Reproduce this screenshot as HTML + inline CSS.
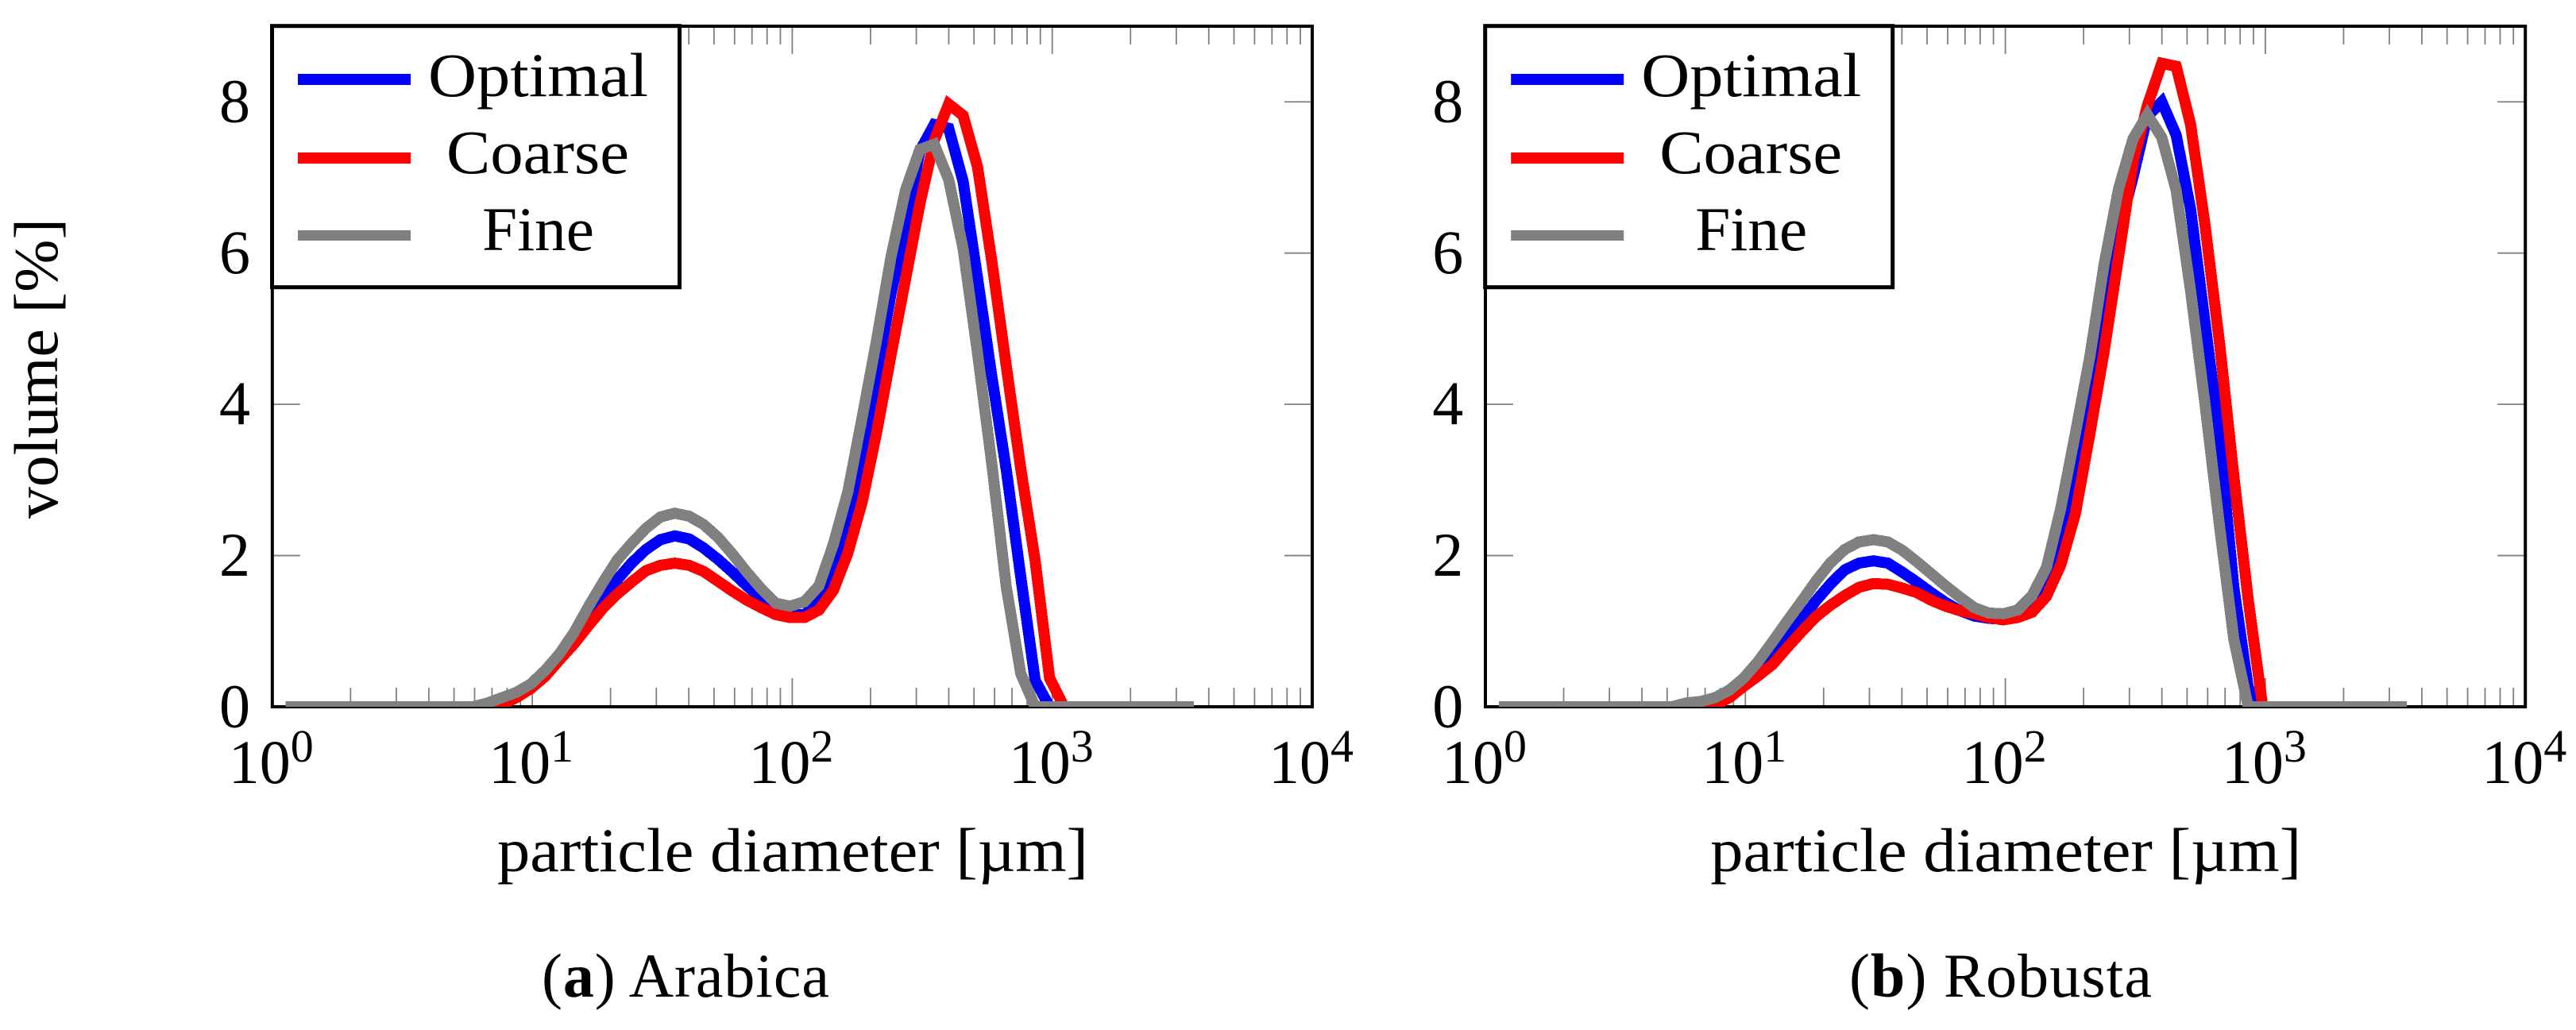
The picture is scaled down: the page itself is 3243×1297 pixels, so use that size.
<!DOCTYPE html>
<html lang="en">
<head>
<meta charset="utf-8">
<title>Particle size distribution: Arabica and Robusta</title>
<style>
  html, body { margin: 0; padding: 0; background: #ffffff; }
  svg { display: block; }
  text { font-family: "Liberation Serif", serif; font-size: 78px; fill: #000000; }
</style>
</head>
<body>
<svg id="figure" xmlns="http://www.w3.org/2000/svg" width="3243" height="1297" viewBox="0 0 3243 1297">
  <defs>
    <clipPath id="plot-clip"><rect x="342.8" y="33" width="1309.2" height="857"></rect></clipPath>
  </defs>
  <rect x="0" y="0" width="3243" height="1297" fill="#ffffff"></rect>

  <g id="panel-a">
    <g id="panel-a-axes"></g>
    <g id="panel-a-curves" clip-path="url(#plot-clip)"></g>
    <g>
      <rect x="342.5" y="32.7" width="513" height="329" fill="#ffffff" stroke="#000000" stroke-width="5"></rect>
      <rect x="375" y="93" width="142" height="14" fill="#0000ff"></rect>
      <rect x="375" y="192" width="142" height="14" fill="#ff0000"></rect>
      <rect x="375" y="290" width="142" height="13" fill="#808080"></rect>
      <text x="539" y="121" textLength="277" lengthAdjust="spacingAndGlyphs">Optimal</text>
      <text x="562" y="218" textLength="230" lengthAdjust="spacingAndGlyphs">Coarse</text>
      <text x="607" y="315" textLength="141" lengthAdjust="spacingAndGlyphs">Fine</text>
    </g>
    <text x="626" y="1097" textLength="744" lengthAdjust="spacingAndGlyphs">particle diameter [µm]</text>
  </g>

  <g id="panel-b" transform="translate(1527.2 0)">
    <g id="panel-b-axes"></g>
    <g id="panel-b-curves" clip-path="url(#plot-clip)"></g>
    <g>
      <rect x="342.5" y="32.7" width="513" height="329" fill="#ffffff" stroke="#000000" stroke-width="5"></rect>
      <rect x="375" y="93" width="142" height="14" fill="#0000ff"></rect>
      <rect x="375" y="192" width="142" height="14" fill="#ff0000"></rect>
      <rect x="375" y="290" width="142" height="13" fill="#808080"></rect>
      <text x="539" y="121" textLength="277" lengthAdjust="spacingAndGlyphs">Optimal</text>
      <text x="562" y="218" textLength="230" lengthAdjust="spacingAndGlyphs">Coarse</text>
      <text x="607" y="315" textLength="141" lengthAdjust="spacingAndGlyphs">Fine</text>
    </g>
    <text x="626" y="1097" textLength="744" lengthAdjust="spacingAndGlyphs">particle diameter [µm]</text>
  </g>

  <text transform="translate(72 653) rotate(-90)" x="0" y="0" textLength="378" lengthAdjust="spacingAndGlyphs">volume [%]</text>
  <text x="682" y="1255" textLength="362">(<tspan font-weight="bold">a</tspan>) Arabica</text>
  <text x="2328" y="1255" textLength="381">(<tspan font-weight="bold">b</tspan>) Robusta</text>
</svg>

<script>
// Shared chart data
const diameters = [1.126,1.278,1.453,1.650,1.875,2.131,2.421,2.750,3.125,3.550,4.034,4.583,5.207,5.916,6.722,7.637,8.677,9.857,11.20,12.72,14.46,16.42,18.66,21.20,24.09,27.37,31.10,35.33,40.14,45.61,51.82,58.87,66.89,76.00,86.35,98.10,111.5,126.7,143.9,163.5,185.8,211.1,239.8,272.5,309.6,351.7,399.6,454.0,515.9,586.1,665.9,756.6,859.6,976.7,1110,1261,1432,1627,1849,2100,2386,2711,3081,3500];

const arabicaOptimal = [0,0,0,0,0,0,0,0,0,0,0,0,0, 0,.02,.07,.15,.26,.42,.63,.86,1.13,1.41,1.68,1.90,2.08,2.21,2.26,2.22,2.10,1.95,1.78,1.60,1.44,1.30,1.22,1.22,1.38,1.75,2.45,3.40,4.42,5.46,6.37,7.35,7.70,7.65,6.95,5.67,4.36,3.13,1.72,.35,0, 0,0,0,0,0,0,0,0,0,0];
const arabicaCoarse = [0,0,0,0,0,0,0,0,0,0,0,0,0, 0,0,.03,.12,.24,.40,.62,.83,1.07,1.30,1.49,1.65,1.80,1.87,1.90,1.87,1.79,1.66,1.53,1.41,1.31,1.22,1.18,1.18,1.28,1.54,2.03,2.71,3.63,4.65,5.65,6.65,7.49,7.97,7.82,7.14,5.88,4.5,3.15,1.93,.38,0, 0,0,0,0,0,0,0,0,0];
const arabicaFine = [0,0,0,0,0,0,0,0,0,0,0,0,0, 0,.05,.12,.19,.30,.48,.70,.98,1.32,1.64,1.94,2.16,2.36,2.51,2.56,2.52,2.41,2.24,2.02,1.78,1.56,1.37,1.33,1.39,1.60,2.15,2.84,3.83,4.85,5.95,6.83,7.37,7.44,6.97,6.06,4.68,3.2,1.58,.44,0, 0,0,0,0,0,0,0,0,0,0,0];

const robustaOptimal = [0,0,0,0,0,0,0,0,0,0,0,0,0, 0,.02,.05,.13,.27,.44,.68,.90,1.14,1.40,1.62,1.81,1.90,1.93,1.90,1.78,1.65,1.51,1.38,1.27,1.20,1.17,1.16,1.21,1.35,1.62,2.13,3.12,4.10,5.15,6.27,7.0,7.81,8.0,7.56,6.58,5.08,3.57,1.58,.25,0, 0,0,0,0,0,0,0,0,0,0];
const robustaCoarse = [0,0,0,0,0,0,0,0,0,0,0,0,0, 0,0,.02,.12,.27,.41,.56,.78,.99,1.19,1.34,1.47,1.58,1.63,1.62,1.57,1.51,1.41,1.33,1.27,1.23,1.18,1.15,1.18,1.25,1.46,1.88,2.55,3.60,4.70,5.95,7.2,7.95,8.51,8.47,7.7,6.37,4.82,3.05,1.41,0, 0,0,0,0,0,0,0,0,0,0];
const robustaFine = [0,0,0,0,0,0,0,0,0,0,0,0,0, .05,.07,.12,.22,.38,.60,.86,1.13,1.39,1.66,1.90,2.08,2.18,2.21,2.18,2.07,1.92,1.76,1.60,1.45,1.31,1.24,1.23,1.28,1.47,1.84,2.63,3.61,4.62,5.85,6.85,7.51,7.83,7.53,6.83,5.5,4.0,2.40,.89,0, 0,0,0,0,0,0,0,0,0,0,0];

const yTickValues = [0, 2, 4, 6, 8];
const xTickExponents = [0, 1, 2, 3, 4];
const minorMultipliers = [2, 3, 4, 5, 6, 7, 8, 9];

const SVG_NS = 'http://www.w3.org/2000/svg';
const plotLeft = 342.8, plotRight = 1652, plotTop = 33, plotBottom = 890;
const decadeWidth = (plotRight - plotLeft) / 4;
const yMax = 9;

function xScale(d) {
  return plotLeft + Math.log10(d) * decadeWidth;
}
function yScale(v) {
  return plotBottom - (v / yMax) * (plotBottom - plotTop);
}
function tickLine(parent, x1, y1, x2, y2) {
  const el = document.createElementNS(SVG_NS, 'line');
  
  
  el.setAttribute('x1', x1);
  el.setAttribute('y1', y1);
  el.setAttribute('x2', x2);
  el.setAttribute('y2', y2);
  el.setAttribute('stroke', '#808080');
  el.setAttribute('stroke-width', '1.8');
  parent.appendChild(el);
}
function drawAxes(parent) {
  xTickExponents.forEach(function (exp) {
    const major = Math.pow(10, exp);
    const x = xScale(major);
    tickLine(parent, x, plotBottom, x, plotBottom - 36);
    tickLine(parent, x, plotTop, x, plotTop + 35);

    const label = document.createElementNS(SVG_NS, 'text');
    
    
    label.setAttribute('x', x - 55);
    label.setAttribute('y', 986);
    label.textContent = '10';
    const sup = document.createElementNS(SVG_NS, 'tspan');
    
    
    sup.setAttribute('dy', '-27');
    sup.setAttribute('font-size', '58');
    sup.textContent = String(exp);
    label.appendChild(sup);
    parent.appendChild(label);

    if (exp < 4) {
      minorMultipliers.forEach(function (m) {
        const mx = xScale(major * m);
        tickLine(parent, mx, plotBottom, mx, plotBottom - 24);
        tickLine(parent, mx, plotTop, mx, plotTop + 23);
      });
    }
  });
  yTickValues.forEach(function (v) {
    const y = yScale(v);
    tickLine(parent, plotLeft, y, plotLeft + 35, y);
    tickLine(parent, plotRight, y, plotRight - 35, y);

    const label = document.createElementNS(SVG_NS, 'text');
    
    
    label.setAttribute('x', 315);
    label.setAttribute('y', y + 25.5);
    label.setAttribute('text-anchor', 'end');
    label.textContent = String(v);
    parent.appendChild(label);
  });
  const frame = document.createElementNS(SVG_NS, 'rect');
  
  
  frame.setAttribute('x', plotLeft);
  frame.setAttribute('y', plotTop);
  frame.setAttribute('width', plotRight - plotLeft);
  frame.setAttribute('height', plotBottom - plotTop);
  frame.setAttribute('fill', 'none');
  frame.setAttribute('stroke', '#000000');
  frame.setAttribute('stroke-width', '4');
  parent.appendChild(frame);
}
function drawCurve(parent, values, color, name) {
  const pts = diameters.map(function (d, i) {
    return xScale(d).toFixed(2) + ',' + yScale(values[i]).toFixed(2);
  }).join(' ');
  const el = document.createElementNS(SVG_NS, 'polyline');
  
  
  el.setAttribute('points', pts);
  el.setAttribute('fill', 'none');
  el.setAttribute('stroke', color);
  el.setAttribute('stroke-width', '14');
  el.setAttribute('stroke-linejoin', 'miter');
  el.setAttribute('stroke-miterlimit', '10');
  el.setAttribute('stroke-linecap', 'butt');
  el.setAttribute('shape-rendering', 'crispEdges');
  parent.appendChild(el);
}

drawAxes(document.getElementById('panel-a-axes'));
drawAxes(document.getElementById('panel-b-axes'));

const curvesA = document.getElementById('panel-a-curves');
drawCurve(curvesA, arabicaOptimal, '#0000ff', 'arabica-optimal-line');
drawCurve(curvesA, arabicaCoarse, '#ff0000', 'arabica-coarse-line');
drawCurve(curvesA, arabicaFine, '#808080', 'arabica-fine-line');

const curvesB = document.getElementById('panel-b-curves');
drawCurve(curvesB, robustaOptimal, '#0000ff', 'robusta-optimal-line');
drawCurve(curvesB, robustaCoarse, '#ff0000', 'robusta-coarse-line');
drawCurve(curvesB, robustaFine, '#808080', 'robusta-fine-line');
</script>
</body>
</html>
